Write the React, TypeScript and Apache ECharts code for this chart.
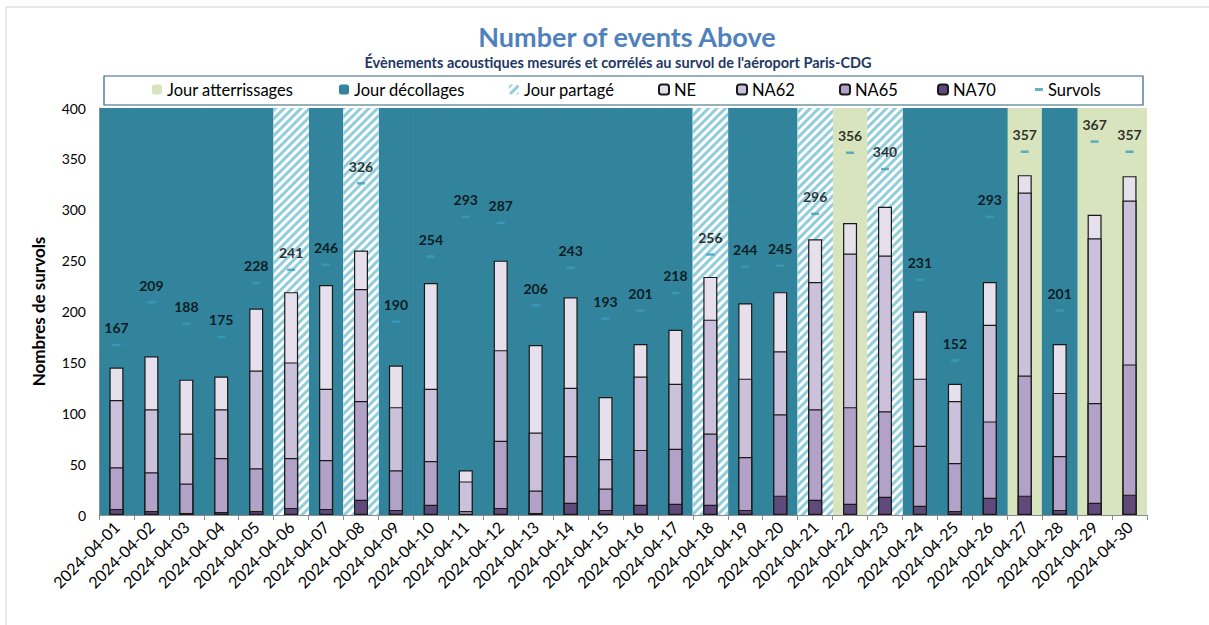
import React, { useEffect, useRef } from "react";
import * as echarts from "echarts";

const days = [
  "2024-04-01","2024-04-02","2024-04-03","2024-04-04","2024-04-05","2024-04-06","2024-04-07","2024-04-08","2024-04-09","2024-04-10",
  "2024-04-11","2024-04-12","2024-04-13","2024-04-14","2024-04-15","2024-04-16","2024-04-17","2024-04-18","2024-04-19","2024-04-20",
  "2024-04-21","2024-04-22","2024-04-23","2024-04-24","2024-04-25","2024-04-26","2024-04-27","2024-04-28","2024-04-29","2024-04-30",
];
// A = Jour atterrissages, D = Jour décollages, P = Jour partagé
const dayType = ["D","D","D","D","D","P","D","P","D","D","D","D","D","D","D","D","D","P","D","D","P","A","P","D","D","D","A","D","A","A"];
const neValues = [145,156,133,136,203,219,226,260,147,228,44,250,167,214,116,168,182,234,208,219,271,287,303,200,129,229,334,168,295,333];
const na62Values = [113,104,80,104,142,150,124,222,106,124,33,162,81,125,55,136,129,192,134,161,229,257,255,134,112,187,317,120,272,309];
const na65Values = [47,42,31,56,46,56,54,112,44,53,4,73,24,58,26,64,65,80,57,99,104,106,102,68,51,92,137,58,110,148];
const na70Values = [6,4,2,3,4,7,6,15,5,10,1,7,2,12,5,10,11,10,5,19,15,11,18,9,4,17,19,5,12,20];
const survolsValues = [167,209,188,175,228,241,246,326,190,254,293,287,206,243,193,201,218,256,244,245,296,356,340,231,152,293,357,201,367,357];
const yTicks = [0, 50, 100, 150, 200, 250, 300, 350, 400];

const FONT = "Lato";

export default function App() {
  const ref = useRef<HTMLDivElement>(null);
  useEffect(() => {
    if (!ref.current) return;
    const chart = echarts.init(ref.current, null, { renderer: "svg" });
    const yMax = yTicks[yTicks.length - 1];
    const bg = (t: string) => dayType.map((d) => (d === t ? yMax : "-"));
    const barBorder = { borderColor: "#1a1a1a", borderWidth: 1.2 };
    const legendItem = (name: string, left: number, extra: any = {}) => ({
      show: true,
      data: [name],
      left,
      top: 81,
      padding: 0,
      itemWidth: 10,
      itemHeight: 10,
      itemGap: 5,
      textStyle: { fontFamily: FONT, fontSize: 16.5, color: "#000" },
      ...extra,
    });
    const option: any = {
      animation: false,
      textStyle: { fontFamily: FONT },
      graphic: [
        { type: "rect", shape: { x: 6, y: 7, width: 1220, height: 700 }, style: { fill: "none", stroke: "#d0d0d0", lineWidth: 1 }, silent: true },
        { type: "rect", shape: { x: 104, y: 76, width: 1039, height: 29 }, style: { fill: "#fff", stroke: "#2a6577", lineWidth: 1.2 }, z: -1, silent: true },
        { type: "text", x: 627, y: 36, style: { text: "Number of events Above", fontFamily: FONT, fontSize: 27, fontWeight: "bold", fill: "#4F81BD", textAlign: "center", textVerticalAlign: "middle" } },
        { type: "text", x: 618, y: 62, style: { text: "Évènements acoustiques mesurés et corrélés au survol de l'aéroport Paris-CDG", fontFamily: FONT, fontSize: 14.5, fontWeight: "bold", fill: "#1F3864", textAlign: "center", textVerticalAlign: "middle" } },
      ],
      legend: [
        legendItem("Jour atterrissages", 152),
        legendItem("Jour décollages", 339),
        legendItem("Jour partagé", 509),
        legendItem("NE", 658),
        legendItem("NA62", 736),
        legendItem("NA65", 839),
        legendItem("NA70", 937),
        legendItem("Survols", 1035, { itemWidth: 8, itemHeight: 3, data: [{ name: "Survols", icon: "rect" }] }),
      ],
      grid: { left: 99, right: 62, top: 108, bottom: 110 },
      xAxis: [
        {
          type: "category",
          data: days,
          boundaryGap: true,
          axisLine: { lineStyle: { color: "#8c8c8c", width: 1 } },
          axisTick: { show: true, alignWithLabel: false, length: 5, lineStyle: { color: "#8c8c8c" } },
          axisLabel: { interval: 0, rotate: 45, fontFamily: FONT, fontSize: 16, color: "#000", margin: 9 },
          z: 10,
        },
        {
          type: "category",
          data: days,
          boundaryGap: true,
          show: false,
        },
      ],
      yAxis: {
        type: "value",
        min: 0,
        max: yMax,
        interval: 50,
        name: "Nombres de survols",
        nameLocation: "middle",
        nameGap: 52,
        nameTextStyle: { fontFamily: FONT, fontSize: 17, fontWeight: "bold", color: "#000" },
        axisLine: { show: true, lineStyle: { color: "#8c8c8c" } },
        axisTick: { show: false },
        splitLine: { show: false },
        axisLabel: { fontFamily: FONT, fontSize: 14, color: "#000", margin: 13 },
        z: 10,
      },
      series: [
        {
          name: "Jour atterrissages", type: "bar", xAxisIndex: 1, data: bg("A"),
          barWidth: 35.6, barGap: "-100%", itemStyle: { color: "#D7E4BD" }, z: 1, silent: true,
        },
        {
          name: "Jour décollages", type: "bar", xAxisIndex: 1, data: bg("D"),
          barWidth: 35.6, barGap: "-100%", itemStyle: { color: "#31849B" }, z: 1, silent: true,
        },
        {
          name: "Jour partagé", type: "bar", xAxisIndex: 1, data: bg("P"),
          barWidth: 35.6, barGap: "-100%",
          itemStyle: {
            color: "#ffffff",
            decal: { symbol: "rect", symbolSize: 1, dashArrayX: [1, 0], dashArrayY: [3, 2.5], rotation: -Math.PI / 4, color: "#92CDDC" },
          },
          z: 1, silent: true,
        },
        { name: "NE", type: "bar", xAxisIndex: 0, data: neValues, barWidth: 14, barGap: "-100%", itemStyle: { color: "#E6E0EC", ...barBorder }, z: 3 },
        { name: "NA62", type: "bar", xAxisIndex: 0, data: na62Values, barWidth: 14, barGap: "-100%", itemStyle: { color: "#CCC1DA", ...barBorder }, z: 3 },
        { name: "NA65", type: "bar", xAxisIndex: 0, data: na65Values, barWidth: 14, barGap: "-100%", itemStyle: { color: "#B3A2C7", ...barBorder }, z: 3 },
        { name: "NA70", type: "bar", xAxisIndex: 0, data: na70Values, barWidth: 14, barGap: "-100%", itemStyle: { color: "#604A7B", ...barBorder }, z: 3 },
        {
          name: "Survols", type: "scatter", xAxisIndex: 0, data: survolsValues,
          symbol: "rect", symbolSize: [8, 2.5], itemStyle: { color: "#3C9DBE" }, z: 5,
          label: { show: true, position: "top", distance: 9, fontFamily: FONT, fontSize: 14, fontWeight: "bold", color: "#000" },
        },
      ],
    };
    chart.setOption(option);
    return () => chart.dispose();
  }, []);
  return (
    <div
      ref={ref}
      style={{ position: "fixed", left: 0, top: 0, width: 1209, height: 625, background: "#fff" }}
    />
  );
}
